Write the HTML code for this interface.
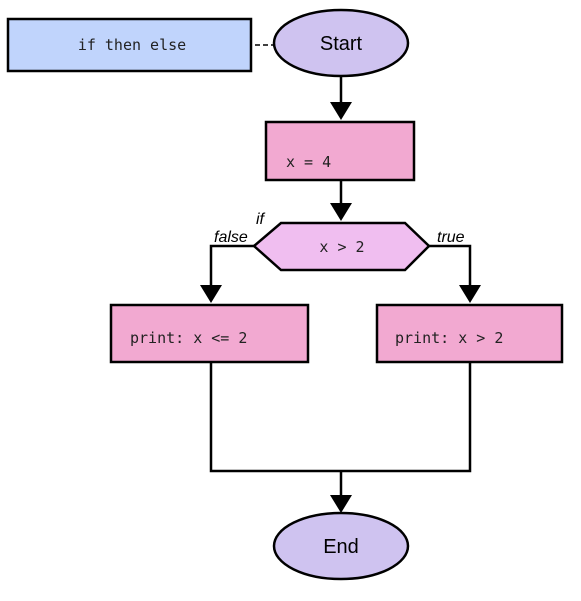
<!DOCTYPE html>
<html><head><style>body{margin:0;background:#fff}svg{display:block}</style></head>
<body>
<svg width="581" height="601" viewBox="0 0 581 601" xmlns="http://www.w3.org/2000/svg">
<g stroke="#000" stroke-width="2.5" fill="none">
<rect x="8" y="19" width="243" height="52" fill="#c0d4fc"/>
<line x1="255" y1="45" x2="273" y2="45" stroke-width="1.5" stroke-dasharray="5,3"/>
<ellipse cx="341" cy="43" rx="67" ry="33" fill="#cfc3f0"/>
<line x1="341" y1="77" x2="341" y2="104"/>
<path d="M330,102 L352,102 L341,120 z" fill="#000" stroke="none"/>
<rect x="266" y="122" width="148" height="58" fill="#f2a9d1"/>
<line x1="341" y1="180" x2="341" y2="204"/>
<path d="M330,203 L352,203 L341,221 z" fill="#000" stroke="none"/>
<polygon points="254,246 281,223 405,223 429,246 405,270 281,270" fill="#f0bef0"/>
<polyline points="254,246 211,246 211,286"/>
<path d="M200,285 L222,285 L211,303 z" fill="#000" stroke="none"/>
<polyline points="429,246 470,246 470,286"/>
<path d="M459,285 L481,285 L470,303 z" fill="#000" stroke="none"/>
<rect x="111" y="305" width="197" height="57" fill="#f2a9d1"/>
<rect x="377" y="305" width="185" height="57" fill="#f2a9d1"/>
<polyline points="211,362 211,471 470,471 470,362"/>
<line x1="341" y1="471" x2="341" y2="496"/>
<path d="M330,495 L352,495 L341,513 z" fill="#000" stroke="none"/>
<ellipse cx="341" cy="546" rx="67" ry="33" fill="#cfc3f0"/>
</g>
<g font-family="DejaVu Sans Mono, Liberation Mono, monospace" font-size="15" fill="#222">
<text x="132" y="50" text-anchor="middle">if then else</text>
<text x="286" y="167">x = 4</text>
<text x="342" y="252" text-anchor="middle">x &gt; 2</text>
<text x="130" y="343">print: x &lt;= 2</text>
<text x="395" y="343">print: x &gt; 2</text>
</g>
<g font-family="Liberation Sans, sans-serif" fill="#000">
<text x="341" y="50" text-anchor="middle" font-size="20">Start</text>
<text x="341" y="553" text-anchor="middle" font-size="20">End</text>
<g font-style="italic" font-size="16">
<text x="256" y="224">if</text>
<text x="214" y="242">false</text>
<text x="437" y="242">true</text>
</g></g>
</svg>
</body></html>
